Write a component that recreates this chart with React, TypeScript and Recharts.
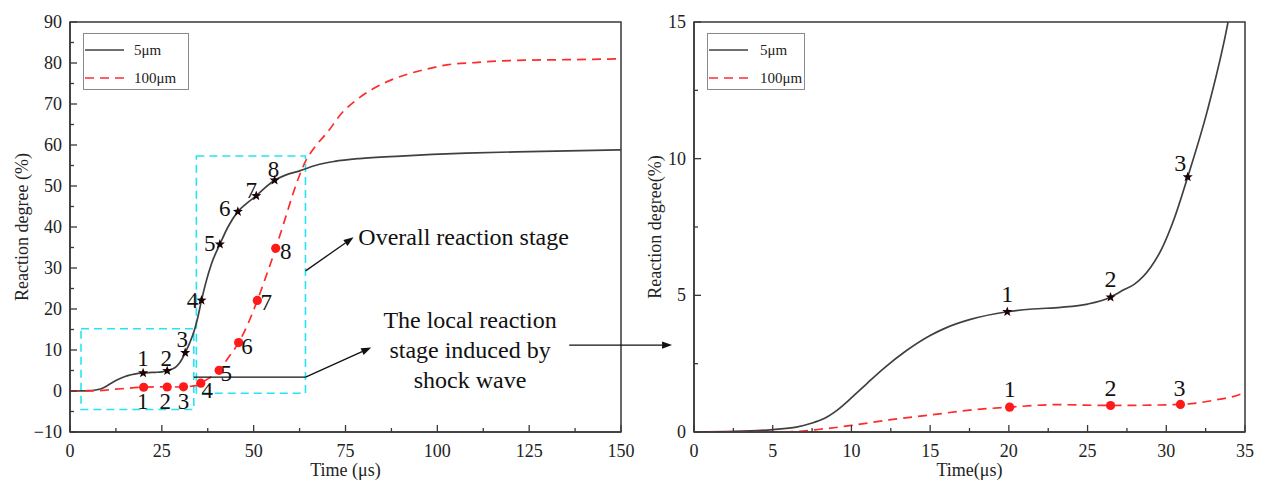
import React from 'react'
import {
  ComposedChart, Line, Scatter, XAxis, YAxis, ReferenceArea, ReferenceLine,
  ReferenceDot, Legend,
} from 'recharts'

// 5 μm particle: time (μs) vs reaction degree (%)
const T_5UM = [0, 2.5, 5, 6.5, 7.4, 8.3, 9.1, 10.1, 11, 12, 13.5, 15, 16, 17.5, 19.9, 21.5, 23.3, 25, 26.46, 27.3, 28, 29, 29.7, 30.5, 31.36, 32.6, 33.9, 34.8, 35.8, 37, 38.5, 40.8, 43, 45.7, 48, 50.7, 53, 55.7, 58.5, 62.5, 67.9, 72, 78.8, 90, 107.8, 125, 150]
const V_5UM = [0, 0.02, 0.09, 0.18, 0.31, 0.5, 0.8, 1.3, 1.78, 2.3, 2.98, 3.53, 3.81, 4.11, 4.4, 4.5, 4.56, 4.68, 4.93, 5.2, 5.42, 6.02, 6.69, 7.8, 9.33, 11.74, 14.93, 18, 22.1, 26.5, 31, 35.8, 40.0, 43.75, 45.7, 47.6, 49.5, 51.4, 52.6, 53.7, 55.3, 56.0, 56.7, 57.3, 58.0, 58.4, 58.8]

// 100 μm particle
const T_100UM = [0, 3, 6, 8, 10, 12.5, 15, 17.5, 20.05, 23, 26.46, 30.9, 33, 35, 35.6, 38, 40.6, 43, 45.9, 48.5, 51, 53.5, 56, 58.5, 61, 64, 67, 70, 74, 78, 82.5, 87, 92, 97, 103, 110, 117, 125, 135, 142, 150]
const V_100UM = [0, 0, 0.01, 0.1, 0.24, 0.45, 0.62, 0.8, 0.91, 1.0, 0.97, 1.01, 1.16, 1.46, 1.9, 3.2, 5.05, 8.0, 11.8, 16.5, 22.1, 28.3, 34.8, 41.8, 48.9, 55.8, 59.9, 63.0, 67.8, 71.0, 73.7, 75.7, 77.3, 78.5, 79.6, 80.1, 80.5, 80.7, 80.8, 80.9, 81.0]

// numbered stage points
const MARK_NUMS = ['1', '2', '3', '4', '5', '6', '7', '8']
const STAR_T = [19.9, 26.46, 31.36, 35.8, 40.8, 45.7, 50.7, 55.7]
const STAR_V = [4.4, 4.93, 9.33, 22.1, 35.8, 43.75, 47.6, 51.4]
const DOT_T = [20.05, 26.46, 30.9, 35.6, 40.6, 45.9, 51.0, 56.0]
const DOT_V = [0.91, 0.97, 1.01, 1.9, 5.05, 11.8, 22.1, 34.8]

// ticks
const LEFT_X_TICKS = [0, 12.5, 25, 37.5, 50, 62.5, 75, 87.5, 100, 112.5, 125, 137.5, 150]
const LEFT_X_MAJOR = [0, 25, 50, 75, 100, 125, 150]
const LEFT_Y_TICKS = [-10, -5, 0, 5, 10, 15, 20, 25, 30, 35, 40, 45, 50, 55, 60, 65, 70, 75, 80, 85, 90]
const LEFT_Y_MAJOR = [-10, 0, 10, 20, 30, 40, 50, 60, 70, 80, 90]
const RIGHT_X_TICKS = [0, 2.5, 5, 7.5, 10, 12.5, 15, 17.5, 20, 22.5, 25, 27.5, 30, 32.5, 35]
const RIGHT_X_MAJOR = [0, 5, 10, 15, 20, 25, 30, 35]
const RIGHT_Y_TICKS = [0, 2.5, 5, 7.5, 10, 12.5, 15]
const RIGHT_Y_MAJOR = [0, 5, 10, 15]

// label offsets (px) of the point numbers, relative to each marker
const STAR_LABEL_LEFT = [[0, -14], [-1, -12.5], [-3, -13], [-9, 0], [-10, -1], [-13, -3], [-5, -5], [-1, -11]]
const DOT_LABEL_LEFT = [[-1, 14.5], [-2, 14.5], [0, 15], [6.5, 7.5], [7, 3], [8.5, 4], [9, 2], [10, 3]]
const STAR_LABEL_RIGHT = [[0, -17.7], [0, -18], [-7.5, -14]]
const DOT_LABEL_RIGHT = [[0, -18], [0, -17], [-1, -16]]

const SERIF = '"Liberation Serif", "Times New Roman", serif'
const AXIS = '#383838'
const BLACK_LINE = '#404040'
const RED = '#ff2b2b'
const RED_DOT = '#ff1a1a'
const CYAN = '#27e4f2'
const INK = '#111'

type Pt = { t: number; v: number; n?: string }
const zip = (ts: number[], vs: number[], ns?: string[]): Pt[] =>
  ts.map((t, i) => ({ t, v: vs[i], n: ns ? ns[i] : undefined }))

const line5 = zip(T_5UM, V_5UM)
const line100 = zip(T_100UM, V_100UM)
const stars = zip(STAR_T, STAR_V, MARK_NUMS)
const dots = zip(DOT_T, DOT_V, MARK_NUMS)

const fmt = (v: number) => (v < 0 ? '\u2212' + Math.abs(v) : String(v))

function makeTick(dir: 'x' | 'y', majors: number[]) {
  return (props: any) => {
    const { x, y, payload } = props
    const v = payload.value
    const major = majors.some(m => Math.abs(m - v) < 1e-6)
    const len = major ? 7 : 4
    if (dir === 'x') {
      return (
        <g>
          <line x1={x} y1={y} x2={x} y2={y - len} stroke={AXIS} strokeWidth={1.3} />
          {major && (
            <text x={x} y={y + 19} textAnchor="middle" dominantBaseline="central"
              fontFamily={SERIF} fontSize={18} fill="#222">{fmt(v)}</text>
          )}
        </g>
      )
    }
    return (
      <g>
        <line x1={x} y1={y} x2={x + len} y2={y} stroke={AXIS} strokeWidth={1.3} />
        {major && (
          <text x={x - 8} y={y} textAnchor="end" dominantBaseline="central"
            fontFamily={SERIF} fontSize={18} fill="#222">{fmt(v)}</text>
        )}
      </g>
    )
  }
}

const starPath = (cx: number, cy: number, R: number, r: number) => {
  let d = ''
  for (let i = 0; i < 10; i++) {
    const a = -Math.PI / 2 + (i * Math.PI) / 5
    const rad = i % 2 === 0 ? R : r
    d += (i ? 'L' : 'M') + (cx + rad * Math.cos(a)).toFixed(2) + ',' + (cy + rad * Math.sin(a)).toFixed(2)
  }
  return d + 'Z'
}

function markerShape(kind: 'star' | 'dot', offsets: number[][], fontSize: number) {
  return (props: any) => {
    const { cx, cy, payload } = props
    const [dx, dy] = offsets[Number(payload.n) - 1] ?? [0, 0]
    return (
      <g>
        {kind === 'star'
          ? <path d={starPath(cx, cy, 5.3, 2.2)} fill="#1c0303" />
          : <circle cx={cx} cy={cy} r={4.6} fill={RED_DOT} />}
        <text x={cx + dx} y={cy + dy} textAnchor="middle" dominantBaseline="central"
          fontFamily={SERIF} fontSize={fontSize} fill={INK}>{payload.n}</text>
      </g>
    )
  }
}

const arrowShape = (p: any) => {
  const { x1, y1, x2, y2 } = p
  const ang = Math.atan2(y2 - y1, x2 - x1)
  const L = 10, W = 3.6
  const bx = x2 - L * Math.cos(ang), by = y2 - L * Math.sin(ang)
  const px = -Math.sin(ang) * W, py = Math.cos(ang) * W
  return (
    <g>
      <line x1={x1} y1={y1} x2={bx} y2={by} stroke={INK} strokeWidth={1.3} />
      <path d={`M${x2},${y2}L${bx + px},${by + py}L${bx - px},${by - py}Z`} fill={INK} />
    </g>
  )
}

const plainShape = (p: any) => (
  <line x1={p.x1} y1={p.y1} x2={p.x2} y2={p.y2} stroke={INK} strokeWidth={1.3} />
)

function LegendBox({ w, textX }: { w: number; textX: number }) {
  return (
    <svg width={w} height={58} style={{ display: 'block' }}>
      <rect x={0.5} y={0.5} width={w - 1} height={56} fill="#fff" stroke="#8a8a8a" />
      <line x1={2} x2={41} y1={17} y2={17} stroke={BLACK_LINE} strokeWidth={1.7} />
      <text x={textX} y={17} dominantBaseline="central" fontFamily={SERIF} fontSize={15} fill="#222">5μm</text>
      <line x1={2} x2={41} y1={45} y2={45} stroke={RED} strokeWidth={1.7} strokeDasharray="9 6" />
      <text x={textX} y={45} dominantBaseline="central" fontFamily={SERIF} fontSize={15} fill="#222">100μm</text>
    </svg>
  )
}

const xTitle = (text: string, dy: number) => (props: any) => {
  const vb = props.viewBox
  return (
    <text x={vb.x + vb.width / 2} y={vb.y + dy} textAnchor="middle" dominantBaseline="central"
      fontFamily={SERIF} fontSize={18} fill="#222">{text}</text>
  )
}

const yTitle = (text: string, cx: number) => (props: any) => {
  const vb = props.viewBox
  const cy = vb.y + vb.height / 2
  return (
    <text x={cx} y={cy} transform={`rotate(-90, ${cx}, ${cy})`} textAnchor="middle"
      dominantBaseline="central" fontFamily={SERIF} fontSize={18} fill="#222">{text}</text>
  )
}

const textShape = (lines: string[], anchor: 'start' | 'middle') => (p: any) => (
  <text x={p.cx} y={p.cy} textAnchor={anchor} dominantBaseline="central"
    fontFamily={SERIF} fontSize={24} fill={INK}>
    {lines.map((l, i) => (
      <tspan key={i} x={p.cx} dy={i === 0 ? 0 : 30}>{l}</tspan>
    ))}
  </text>
)

function LeftPanel() {
  return (
    <ComposedChart width={1262} height={482} margin={{ top: 22, right: 641, bottom: 0, left: 0 }}>
      <XAxis type="number" dataKey="t" domain={[0, 150]} ticks={LEFT_X_TICKS} interval={0}
        tickSize={0} tickMargin={0} tickLine={false} height={50}
        axisLine={{ stroke: AXIS, strokeWidth: 1.5 }} tick={makeTick('x', LEFT_X_MAJOR)}
        label={xTitle('Time (μs)', 38)} />
      <YAxis type="number" dataKey="v" domain={[-10, 90]} ticks={LEFT_Y_TICKS} interval={0}
        tickSize={0} tickMargin={0} tickLine={false} width={70}
        axisLine={{ stroke: AXIS, strokeWidth: 1.5 }} tick={makeTick('y', LEFT_Y_MAJOR)}
        label={yTitle('Reaction degree (%)', 22)} />
      <ReferenceArea x1={0} x2={150} y1={-10} y2={90} fill="none" stroke={AXIS} strokeWidth={1.5} ifOverflow="visible" />
      <ReferenceArea x1={3} x2={33.7} y1={-4.5} y2={15.2} fill="none" fillOpacity={0}
        stroke={CYAN} strokeWidth={1.6} strokeDasharray="8 5" ifOverflow="visible" />
      <ReferenceArea x1={34.4} x2={64.1} y1={-0.55} y2={57.3} fill="none" fillOpacity={0}
        stroke={CYAN} strokeWidth={1.6} strokeDasharray="8 5" ifOverflow="visible" />
      <Line data={line5} dataKey="v" name="5μm" type="monotone" stroke={BLACK_LINE} strokeWidth={1.7}
        dot={false} activeDot={false} isAnimationActive={false} />
      <Line data={line100} dataKey="v" name="100μm" type="monotone" stroke={RED} strokeWidth={1.7}
        strokeDasharray="9 6" dot={false} activeDot={false} isAnimationActive={false} />
      <Scatter data={stars} dataKey="v" legendType="none" shape={markerShape('star', STAR_LABEL_LEFT, 23)} isAnimationActive={false} />
      <Scatter data={dots} dataKey="v" legendType="none" shape={markerShape('dot', DOT_LABEL_LEFT, 23)} isAnimationActive={false} />
      <ReferenceLine segment={[{ x: 64.13, y: 29.3 }, { x: 77.2, y: 37.5 }]} ifOverflow="visible" shape={arrowShape} />
      <ReferenceLine segment={[{ x: 33.7, y: 3.4 }, { x: 64.13, y: 3.4 }]} ifOverflow="visible" shape={plainShape} />
      <ReferenceLine segment={[{ x: 64.13, y: 3.4 }, { x: 82.0, y: 10.6 }]} ifOverflow="visible" shape={arrowShape} />
      <ReferenceLine segment={[{ x: 135.9, y: 11.2 }, { x: 163.9, y: 11.2 }]} ifOverflow="visible" shape={arrowShape} />
      <ReferenceDot x={78.5} y={37.6} r={0} ifOverflow="visible" shape={textShape(['Overall reaction stage'], 'start')} />
      <ReferenceDot x={108.9} y={17.2} r={0} ifOverflow="visible"
        shape={textShape(['The local reaction', 'stage induced by', 'shock wave'], 'middle')} />
      <Legend layout="horizontal" verticalAlign="middle" align="center"
        wrapperStyle={{ left: 83, top: 33, width: 106, height: 58 }}
        content={() => <LegendBox w={106} textX={51} />} />
    </ComposedChart>
  )
}

function RightPanel() {
  return (
    <ComposedChart width={622} height={482} margin={{ top: 22, right: 17, bottom: 0, left: 0 }}>
      <XAxis type="number" dataKey="t" domain={[0, 35]} allowDataOverflow ticks={RIGHT_X_TICKS} interval={0}
        tickSize={0} tickMargin={0} tickLine={false} height={50}
        axisLine={{ stroke: AXIS, strokeWidth: 1.5 }} tick={makeTick('x', RIGHT_X_MAJOR)}
        label={xTitle('Time(μs)', 38)} />
      <YAxis type="number" dataKey="v" domain={[0, 15]} allowDataOverflow ticks={RIGHT_Y_TICKS} interval={0}
        tickSize={0} tickMargin={0} tickLine={false} width={54}
        axisLine={{ stroke: AXIS, strokeWidth: 1.5 }} tick={makeTick('y', RIGHT_Y_MAJOR)}
        label={yTitle('Reaction degree(%)', 15)} />
      <ReferenceArea x1={0} x2={35} y1={0} y2={15} fill="none" stroke={AXIS} strokeWidth={1.5} ifOverflow="visible" />
      <Line data={line5} dataKey="v" name="5μm" type="monotone" stroke={BLACK_LINE} strokeWidth={1.7}
        dot={false} activeDot={false} isAnimationActive={false} />
      <Line data={line100} dataKey="v" name="100μm" type="monotone" stroke={RED} strokeWidth={1.7}
        strokeDasharray="9 6" dot={false} activeDot={false} isAnimationActive={false} />
      <Scatter data={stars.slice(0, 3)} dataKey="v" legendType="none" shape={markerShape('star', STAR_LABEL_RIGHT, 24)} isAnimationActive={false} />
      <Scatter data={dots.slice(0, 3)} dataKey="v" legendType="none" shape={markerShape('dot', DOT_LABEL_RIGHT, 24)} isAnimationActive={false} />
      <Legend layout="horizontal" verticalAlign="middle" align="center"
        wrapperStyle={{ left: 67, top: 33, width: 98, height: 58 }}
        content={() => <LegendBox w={98} textX={53} />} />
    </ComposedChart>
  )
}

export default function App() {
  return (
    <div style={{ position: 'absolute', left: 0, top: 0, width: 1262, height: 482, background: '#fff', fontFamily: SERIF }}>
      <div style={{ position: 'absolute', left: 0, top: 0 }}>
        <LeftPanel />
      </div>
      <div style={{ position: 'absolute', left: 640, top: 0 }}>
        <RightPanel />
      </div>
    </div>
  )
}
